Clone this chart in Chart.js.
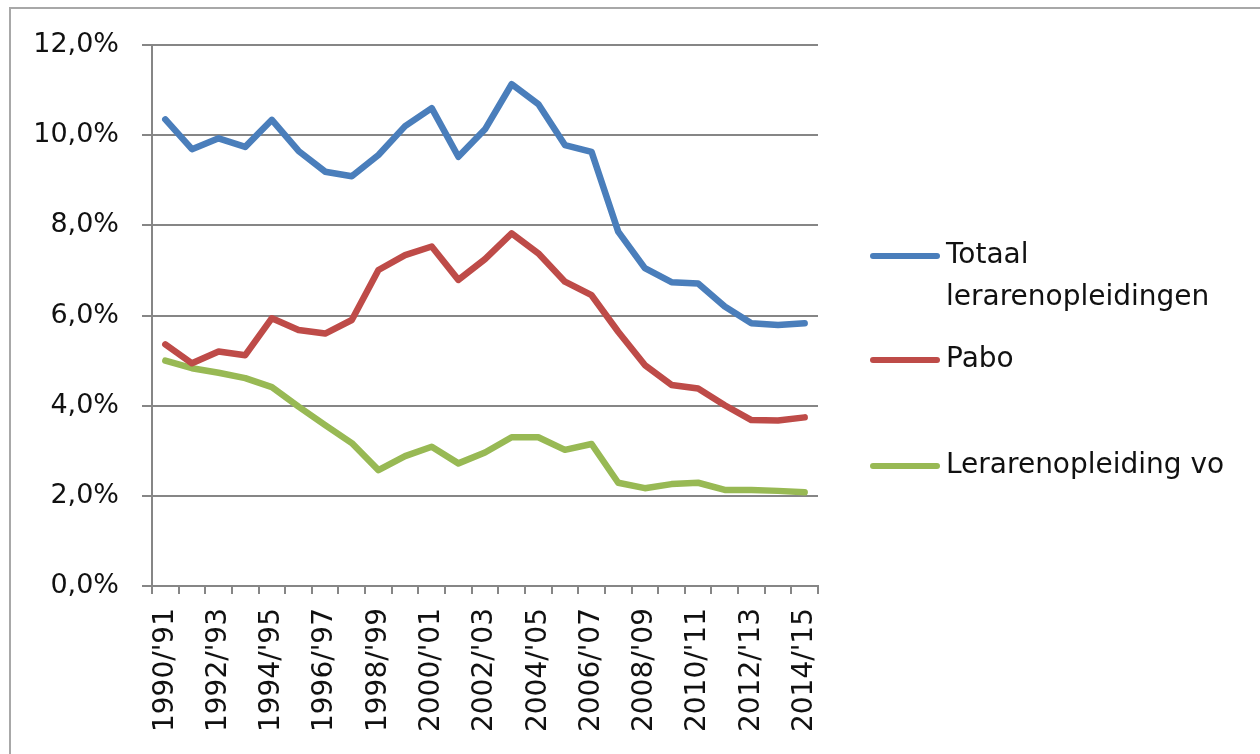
<!DOCTYPE html>
<html>
<head>
<meta charset="utf-8">
<script src="https://cdn.jsdelivr.net/npm/chart.js@4/dist/chart.umd.min.js"></script>
<style>
    html, body { margin: 0; padding: 0; background: #ffffff; }
    #wrap { position: relative; width: 1260px; height: 754px; overflow: hidden; }
    #frame { position: absolute; left: 9px; top: 7px; right: -10px; bottom: -10px;
             border-left: 2px solid #a8a8a8; border-top: 2px solid #a8a8a8; }
    #legend { position: absolute; left: 870px; top: 0; font-family: 'DejaVu Sans', sans-serif;
              font-size: 28px; color: #111; }
    .item { position: absolute; left: 0; white-space: nowrap; }
    .item .sw { position: absolute; left: 0; width: 70px; height: 6px; border-radius: 3px; }
    .item .tx { position: absolute; left: 76px; line-height: 42px; }
</style>
</head>
<body>
<div id="wrap">
    <div id="frame"></div>
    <canvas id="chart" width="1260" height="754"></canvas>
    <div id="legend"></div>
</div>
<script>
// schooljaren 1990/'91 t/m 2014/'15
const labels = ["1990/'91", "1991/'92", "1992/'93", "1993/'94", "1994/'95", "1995/'96", "1996/'97",
    "1997/'98", "1998/'99", "1999/'00", "2000/'01", "2001/'02", "2002/'03", "2003/'04", "2004/'05",
    "2005/'06", "2006/'07", "2007/'08", "2008/'09", "2009/'10", "2010/'11", "2011/'12", "2012/'13",
    "2013/'14", "2014/'15"];

// waarden in procenten
const totaal = [10.35, 9.69, 9.93, 9.74, 10.34, 9.65, 9.19, 9.09, 9.56, 10.2, 10.6, 9.52, 10.13,
    11.13, 10.69, 9.78, 9.63, 7.86, 7.05, 6.74, 6.71, 6.2, 5.83, 5.79, 5.83];
const pabo = [5.36, 4.94, 5.2, 5.12, 5.94, 5.68, 5.6, 5.9, 7.01, 7.34, 7.53, 6.79, 7.25,
    7.82, 7.38, 6.75, 6.45, 5.64, 4.9, 4.46, 4.38, 4.01, 3.68, 3.67, 3.74];
const vo = [5.0, 4.83, 4.73, 4.61, 4.41, 3.98, 3.57, 3.17, 2.57, 2.88, 3.09, 2.72, 2.96,
    3.3, 3.3, 3.02, 3.15, 2.29, 2.17, 2.26, 2.29, 2.13, 2.13, 2.11, 2.08];

const yTicks = [0, 2, 4, 6, 8, 10, 12];

const seriesNames = [['Totaal', 'lerarenopleidingen'], ['Pabo'], ['Lerarenopleiding vo']];
const seriesColors = ['#4a7ebb', '#be4b48', '#98b954'];

const gridColor = '#868686';

function makeSet(idx, data) {
    return {
        label: seriesNames[idx].join(' '),
        data: data,
        borderColor: seriesColors[idx],
        backgroundColor: seriesColors[idx],
        borderWidth: 6.5,
        pointRadius: 0,
        tension: 0,
        borderJoinStyle: 'round',
        borderCapStyle: 'round'
    };
}

const chart = new Chart(document.getElementById('chart').getContext('2d'), {
    type: 'line',
    data: {
        labels: labels,
        datasets: [makeSet(0, totaal), makeSet(1, pabo), makeSet(2, vo)]
    },
    options: {
        responsive: false,
        animation: false,
        layout: {
            padding: { left: 0, right: 442, top: 45, bottom: 0 }
        },
        plugins: {
            legend: { display: false },
            tooltip: { enabled: false }
        },
        scales: {
            x: {
                type: 'category',
                offset: true,
                afterFit: function(scale) { scale.height = 168; },
                border: { color: gridColor, width: 2 },
                grid: {
                    offset: true,
                    drawOnChartArea: false,
                    drawTicks: true,
                    tickLength: 8,
                    color: gridColor,
                    lineWidth: 2
                },
                ticks: {
                    autoSkip: false,
                    maxRotation: 90,
                    minRotation: 90,
                    padding: 14,
                    color: '#111',
                    font: { family: "'DejaVu Sans', sans-serif", size: 28 },
                    callback: function(value, index) {
                        return index % 2 === 0 ? this.getLabelForValue(value) : '';
                    }
                }
            },
            y: {
                min: 0,
                max: 12,
                afterFit: function(scale) { scale.width = 152; },
                afterBuildTicks: function(scale) {
                    scale.ticks = yTicks.map(v => ({ value: v }));
                },
                border: { color: gridColor, width: 2 },
                grid: {
                    color: gridColor,
                    lineWidth: 2,
                    drawTicks: true,
                    tickLength: 10
                },
                ticks: {
                    padding: 23,
                    color: '#111',
                    font: { family: "'DejaVu Sans', sans-serif", size: 27 },
                    callback: function(value) {
                        return value.toFixed(1).replace('.', ',') + '%';
                    }
                }
            }
        }
    }
});

// legenda rechts, naast de lijnen
const legendTops = [256, 360, 466];
const legend = document.getElementById('legend');
seriesNames.forEach(function(name, i) {
    const item = document.createElement('div');
    item.className = 'item';
    item.style.top = legendTops[i] + 'px';
    const sw = document.createElement('div');
    sw.className = 'sw';
    sw.style.background = seriesColors[i];
    sw.style.top = '-3px';
    const tx = document.createElement('div');
    tx.className = 'tx';
    tx.style.top = '-23px';
    tx.innerHTML = name.join('<br>');
    item.appendChild(sw);
    item.appendChild(tx);
    legend.appendChild(item);
});
</script>
</body>
</html>
